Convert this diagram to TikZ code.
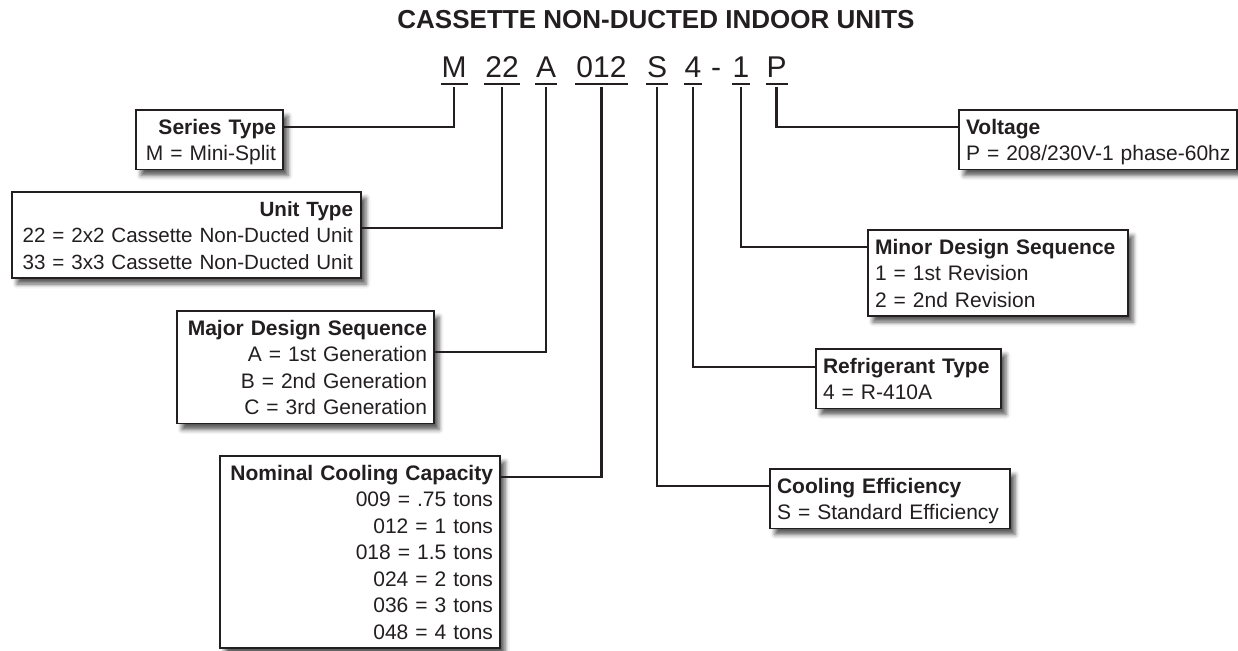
\documentclass[tikz,border=0pt]{standalone}
\usepackage{fontspec}
\setmainfont{Liberation Sans}
\usetikzlibrary{calc,shadows.blur}
\definecolor{ink}{HTML}{231F20}
\begin{document}
\begin{tikzpicture}[x=1pt,y=-1pt,
  every node/.style={text=ink},
  code/.style={font=\fontsize{30}{36}\selectfont, inner xsep=1pt, inner ysep=0pt, anchor=base, outer sep=0pt},
  conn/.style={draw=ink, line width=2.4pt},
  uline/.style={draw=ink, line width=2pt},
  infobox/.style={draw=ink, line width=1.2pt, fill=white, outer sep=0pt,
    inner xsep=7pt, inner ysep=9pt, text height=15pt, anchor=north west,
    font=\fontsize{21}{26.5}\selectfont,
    blur shadow={shadow xshift=5pt, shadow yshift=-6pt, shadow blur radius=4.5pt, shadow opacity=65}},
]
\useasboundingbox (0,0) rectangle (1238,650);

% title
\node[font=\bfseries\fontsize{26}{30}\selectfont, anchor=base] (title) at (656,29) {CASSETTE NON-DUCTED INDOOR UNITS};

% code characters
\node[code] (cM) at (454,78) {M};
\node[code] (c22) at (502,78) {22};
\node[code] (cA) at (546,78) {A};
\node[code] (c012) at (601.5,78) {012};
\node[code] (cS) at (657,78) {S};
\node[code] (c4) at (693,78) {4};
\node[code] (cdash) at (716,78) {-};
\node[code] (c1) at (741,78) {1};
\node[code] (cP) at (776.5,78) {P};

\foreach \n in {cM,c22,cA,c012,cS,c4,c1,cP}{
  \draw[uline] ($(\n.base west)+(0,6.3)$) -- ($(\n.base east)+(0,6.3)$);
}

% boxes
\node[infobox, text width=133pt, align=right, text depth=26.5pt] (series) at (136,110)
  {\textbf{Series Type}\\\mbox{M = Mini-Split}};
\node[infobox, text width=333pt, align=right, text depth=53pt, inner xsep=8pt, font=\fontsize{20.6}{26.5}\selectfont] (unit) at (12,192)
  {\textbf{Unit Type}\\\mbox{22 = 2x2 Cassette Non-Ducted Unit}\\\mbox{33 = 3x3 Cassette Non-Ducted Unit}};
\node[infobox, text width=243pt, align=right, text depth=79.5pt] (major) at (177,311)
  {\textbf{\mbox{Major Design Sequence}}\\\mbox{A = 1st Generation}\\\mbox{B = 2nd Generation}\\\mbox{C = 3rd Generation}};
\node[infobox, text width=266pt, align=right, text depth=159pt] (nominal) at (220,456)
  {\textbf{\mbox{Nominal Cooling Capacity}}\\009 = .75 tons\\012 = 1 tons\\018 = 1.5 tons\\024 = 2 tons\\036 = 3 tons\\048 = 4 tons};
\node[infobox, text width=264pt, align=left, text depth=26.5pt] (voltage) at (959,110)
  {\textbf{Voltage}\\\mbox{P = 208/230V-1 phase-60hz}};
\node[infobox, text width=246pt, align=left, text depth=53pt] (minor) at (868,230)
  {\textbf{\mbox{Minor Design Sequence}}\\1 = 1st Revision\\2 = 2nd Revision};
\node[infobox, text width=171pt, align=left, text depth=26.5pt] (refrig) at (816,349)
  {\textbf{\mbox{Refrigerant Type}}\\4 = R-410A};
\node[infobox, text width=226pt, align=left, text depth=26.5pt] (cooling) at (770,469)
  {\textbf{\mbox{Cooling Efficiency}}\\\mbox{S = Standard Efficiency}};

% connectors
\draw[conn] ($(cM.base)+(0,9)$) |- ($(series.north east)+(0,17)$);
\draw[conn] ($(c22.base)+(0,9)$) |- ($(unit.north east)+(0,36)$);
\draw[conn] ($(cA.base)+(0,9)$) |- ($(major.north east)+(0,41)$);
\draw[conn] ($(c012.base)+(0,9)$) |- ($(nominal.north east)+(0,21)$);
\draw[conn] ($(cS.base)+(0,9)$) |- ($(cooling.north west)+(0,17)$);
\draw[conn] ($(c4.base)+(0,9)$) |- ($(refrig.north west)+(0,18)$);
\draw[conn] ($(c1.base)+(0,9)$) |- ($(minor.north west)+(0,17)$);
\draw[conn] ($(cP.base)+(0,9)$) |- ($(voltage.north west)+(0,17)$);
\end{tikzpicture}
\end{document}
